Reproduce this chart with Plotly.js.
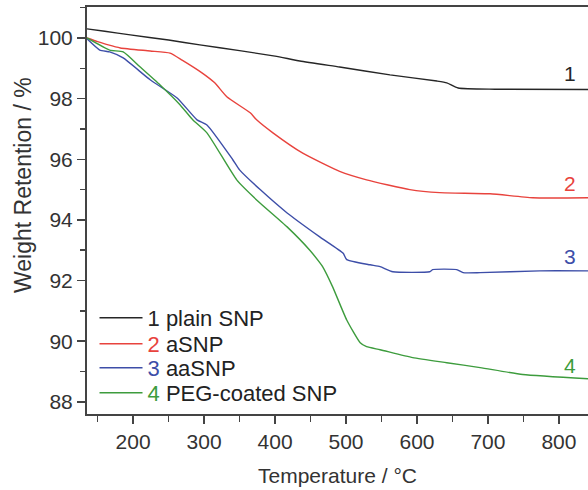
<!DOCTYPE html>
<html>
<head>
<meta charset="utf-8">
<script src="https://cdn.plot.ly/plotly-3.0.1.min.js"></script>
<style>html,body{margin:0;padding:0;background:#fff;}#chart{width:588px;height:490px;}</style>
</head>
<body>
<div id="chart"></div>
<script>
// Temperature (°C) and weight retention (%)
const plainT = [135, 160, 196, 250, 294, 350, 400, 435, 491, 562, 628, 642, 658, 710, 841];
const plainW = [100.3, 100.22, 100.1, 99.93, 99.77, 99.58, 99.4, 99.24, 99.04, 98.78, 98.58, 98.52, 98.35, 98.31, 98.3];

const aT = [135, 150, 165, 182, 224, 252, 269, 297, 315, 332, 365, 374, 397, 439, 491, 529, 590, 632, 703, 763, 841];
const aW = [100.0, 99.88, 99.77, 99.67, 99.57, 99.5, 99.27, 98.85, 98.52, 98.06, 97.53, 97.3, 96.87, 96.2, 95.6, 95.32, 95.0, 94.9, 94.86, 94.73, 94.73];

const aaT = [135, 153, 167, 186, 224, 262, 290, 304, 340, 350, 379, 417, 463, 496, 501, 534, 548, 566, 618, 622, 656, 665, 689, 773, 841];
const aaW = [99.97, 99.6, 99.54, 99.34, 98.62, 98.02, 97.3, 97.13, 96.0, 95.65, 95.0, 94.23, 93.44, 92.9, 92.69, 92.52, 92.46, 92.29, 92.29, 92.36, 92.36, 92.26, 92.26, 92.32, 92.32];

const pegT = [135, 167, 186, 210, 238, 266, 284, 304, 346, 374, 417, 449, 463, 467, 481, 501, 520, 529, 548, 594, 642, 689, 749, 841];
const pegW = [100.0, 99.6, 99.54, 99.04, 98.45, 97.8, 97.3, 96.87, 95.32, 94.66, 93.77, 93.0, 92.59, 92.46, 91.8, 90.7, 89.95, 89.82, 89.72, 89.46, 89.29, 89.13, 88.9, 88.76];

const seriesNames = ['plain SNP', 'aSNP', 'aaSNP', 'PEG-coated SNP'];
const seriesNums = ['1', '2', '3', '4'];
const colors = ['#262626', '#e8433d', '#3d4ea8', '#3d9c3d'];
const labelY = [98.83, 95.2, 92.78, 89.2];
const labelT = 815;
const xTitle = 'Temperature / °C';
const yTitle = 'Weight Retention / %';

const xs = [plainT, aT, aaT, pegT];
const ys = [plainW, aW, aaW, pegW];
const legendIds = ['legend', 'legend2', 'legend3', 'legend4'];
const legendY = [0.2359, 0.172, 0.113, 0.0516];

const traces = xs.map((x, i) => ({
  x: x, y: ys[i], type: 'scatter', mode: 'lines',
  line: {color: colors[i], width: 1.4, shape: 'spline', smoothing: 0.5},
  legend: legendIds[i],
  name: '<span style="color:' + colors[i] + '">' + seriesNums[i] + '</span> ' + seriesNames[i]
}));

const fontFam = 'Liberation Sans, Arial, sans-serif';

const annotations = seriesNums.map((n, i) => ({
  x: labelT, y: labelY[i], xref: 'x', yref: 'y', text: n, showarrow: false,
  font: {family: fontFam, size: 21, color: colors[i]},
  xanchor: 'center', yanchor: 'middle'
}));
annotations.push({
  x: -0.1277, y: 0.5627, xref: 'paper', yref: 'paper', text: yTitle, showarrow: false,
  textangle: -90, xanchor: 'center', yanchor: 'middle',
  font: {family: fontFam, size: 23, color: '#333'}
});

const layout = {
  width: 588, height: 490,
  margin: {l: 87, r: 0, t: 7, b: 76, pad: 0},
  paper_bgcolor: '#fff', plot_bgcolor: '#fff',
  font: {family: fontFam, size: 21, color: '#333'},
  showlegend: true,
  xaxis: {
    range: [135, 841], showgrid: false, zeroline: false,
    showline: true, linecolor: '#444', linewidth: 2, mirror: true,
    ticks: 'outside', ticklen: 8, tickwidth: 1.5, tickcolor: '#444',
    tick0: 0, dtick: 100,
    minor: {dtick: 50, ticks: 'outside', ticklen: 6, tickwidth: 1.5, tickcolor: '#444'},
    tickfont: {family: fontFam, size: 21, color: '#333'},
    title: {text: xTitle, font: {family: fontFam, size: 21, color: '#333'}, standoff: 16}
  },
  yaxis: {
    range: [87.6, 101.02], showgrid: false, zeroline: false,
    showline: true, linecolor: '#444', linewidth: 2, mirror: false,
    ticks: 'outside', ticklen: 8, tickwidth: 1.5, tickcolor: '#444',
    tick0: 0, dtick: 2,
    minor: {dtick: 1, ticks: 'outside', ticklen: 5, tickwidth: 1.5, tickcolor: '#444'},
    tickfont: {family: fontFam, size: 21, color: '#333'}
  },
  annotations: annotations
};

legendIds.forEach((id, i) => {
  layout[id] = {
    x: 0.015, y: legendY[i], xanchor: 'left', yanchor: 'middle',
    bgcolor: 'rgba(0,0,0,0)', borderwidth: 0,
    font: {family: fontFam, size: 22, color: '#222'},
    itemwidth: 43
  };
});

Plotly.newPlot('chart', traces, layout, {displayModeBar: false, staticPlot: true});
</script>
</body>
</html>
